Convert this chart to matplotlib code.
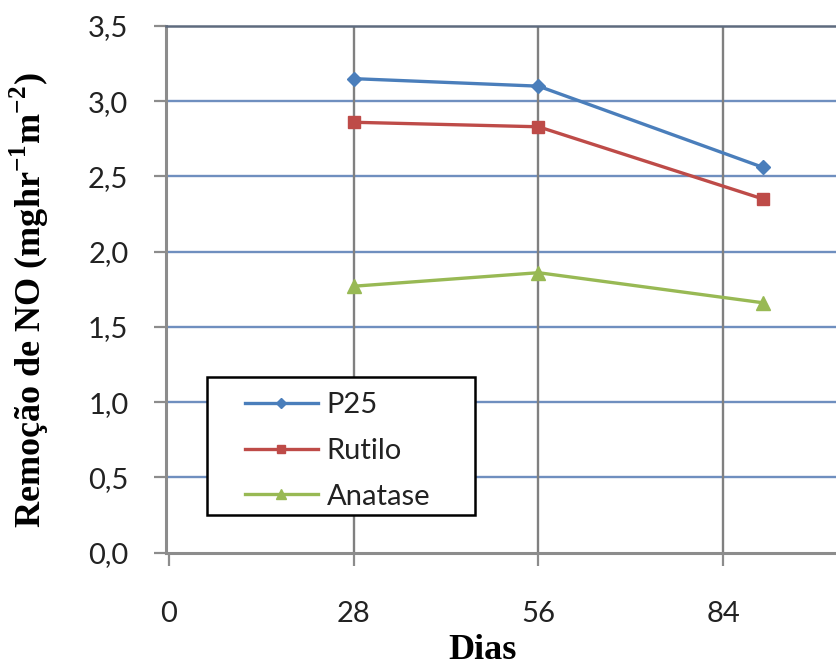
import matplotlib
matplotlib.use('Agg')
import matplotlib.pyplot as plt
from matplotlib.patches import Rectangle

# NO removal over curing age for each TiO2 type
dias = [28, 56, 90]
p25 = [3.15, 3.10, 2.56]
rutilo = [2.86, 2.83, 2.35]
anatase = [1.77, 1.86, 1.66]

x_ticks = [0, 28, 56, 84]
y_ticks = [0.0, 0.5, 1.0, 1.5, 2.0, 2.5, 3.0, 3.5]
y_ticklabels = ['0,0', '0,5', '1,0', '1,5', '2,0', '2,5', '3,0', '3,5']

plt.rcParams['mathtext.fontset'] = 'custom'
plt.rcParams['mathtext.rm'] = 'Liberation Serif:bold'
plt.rcParams['mathtext.bf'] = 'Liberation Serif:bold'

tickFont = {'family': 'Lato', 'size': 21}
labelFont = {'family': 'Liberation Serif', 'size': 26, 'weight': 'bold'}

fig = plt.figure(figsize=(8.37, 6.68), dpi=100)
ax = fig.add_axes([0.1983, 0.1729, 0.8017, 0.7882])

ax.plot(dias, p25, color='#4A7EBB', lw=2.4, marker='D', ms=7.5, label='P25', zorder=3)
ax.plot(dias, rutilo, color='#BE4B48', lw=2.4, marker='s', ms=9, label='Rutilo', zorder=3)
ax.plot(dias, anatase, color='#98B954', lw=2.4, marker='^', ms=10, label='Anatase', zorder=3)

ax.set_xlim(-0.4, 101.2)
ax.set_ylim(0, 3.5)
ax.set_xticks(x_ticks)
ax.set_yticks(y_ticks)
ax.set_xticklabels([str(v) for v in x_ticks], fontdict=tickFont, color='#222222')
ax.set_yticklabels(y_ticklabels, fontdict=tickFont, color='#222222')

# horizontal grid in blue, vertical grid in grey
for y in y_ticks[1:-1]:
    ax.axhline(y, color='#6F8FBF', lw=1.7, zorder=1)
for x in x_ticks[1:]:
    ax.axvline(x, color='#808080', lw=1.7, zorder=1)

for side in ['left', 'bottom']:
    ax.spines[side].set_color('#8C8C8C')
    ax.spines[side].set_linewidth(2.2)
ax.spines['top'].set_color('#5E6B7E')
ax.spines['top'].set_linewidth(1.8)
ax.spines['right'].set_visible(False)

ax.tick_params(axis='y', direction='out', length=9, width=1.6, color='#8C8C8C', pad=18)
ax.tick_params(axis='x', direction='out', length=9, width=1.6, color='#8C8C8C', pad=26)

ax.set_xlabel('Dias', fontdict=labelFont)
ax.xaxis.set_label_coords(0.471, -0.155)
ax.set_ylabel('Remoção de NO (mghr$^{-1}$m$^{-2}$)', fontdict=labelFont)
ax.yaxis.set_label_coords(-0.172, 0.48)

# legend box drawn separately so the padding can differ per side
ax.add_patch(Rectangle((0.0611, 0.0712), 0.3994, 0.2621, transform=ax.transAxes,
                       facecolor='white', edgecolor='black', lw=1.8, zorder=4))
leg = ax.legend(loc='upper left', bbox_to_anchor=(0.1177, 0.305), borderaxespad=0,
                prop={'family': 'Lato', 'size': 21}, frameon=False,
                handlelength=2.5, handletextpad=0.3, borderpad=0, labelspacing=0.68,
                markerscale=0.7)
leg.set_zorder(5)
for t in leg.get_texts():
    t.set_color('#222222')

fig.savefig('out.png', dpi=100)
